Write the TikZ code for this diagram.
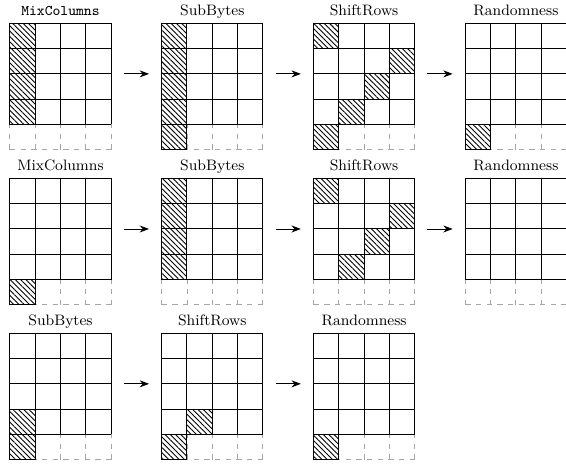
\documentclass[tikz,border=0pt]{standalone}
\usepackage{tikz}
\usetikzlibrary{arrows.meta, patterns.meta}

\begin{document}
\begin{tikzpicture}[>=Stealth, x=0.5cm, y=0.5cm,
    bytegrid/.style={step=1, line width=0.55pt},
    ghostrow/.style={step=1, gray!70, dashed, line width=0.5pt},
    taint/.style={draw, line width=0.55pt, pattern={Lines[angle=-45, distance=2.1pt, line width=0.5pt]}},
    state/.style={minimum size=2cm, inner sep=0pt, outer sep=0pt},
    title/.style={anchor=base, font=\fontsize{8.5}{10}\selectfont},
    flow/.style={->, line width=0.5pt, shorten <=0.25cm, shorten >=0.25cm}]
  \useasboundingbox (0,0) rectangle (22.37,-18.38);

  % first round
  \begin{scope}[shift={(0.39,-0.92)}]
    \draw[ghostrow] (0,-4) grid (4,-5);
    \draw[bytegrid] (0,0) grid (4,-4);
    \draw[taint] (0,0) rectangle (1,-4);
    \node[state] (mix1) at (2,-2) {};
    \node[title, font=\fontsize{8.3}{10}\ttfamily] (mix1t) at (2,0.3) {MixColumns};
  \end{scope}
  \begin{scope}[shift={(6.39,-0.92)}]
    \draw[ghostrow] (0,-4) grid (4,-5);
    \draw[bytegrid] (0,0) grid (4,-4);
    \draw[taint] (0,0) rectangle (1,-5);
    \node[state] (sub1) at (2,-2) {};
    \node[title] (sub1t) at (2,0.3) {SubBytes};
  \end{scope}
  \begin{scope}[shift={(12.39,-0.92)}]
    \draw[ghostrow] (0,-4) grid (4,-5);
    \draw[bytegrid] (0,0) grid (4,-4);
    \draw[taint] (0,0) rectangle +(1,-1);
    \draw[taint] (3,-1) rectangle +(1,-1);
    \draw[taint] (2,-2) rectangle +(1,-1);
    \draw[taint] (1,-3) rectangle +(1,-1);
    \draw[taint] (0,-4) rectangle +(1,-1);
    \node[state] (shift1) at (2,-2) {};
    \node[title] (shift1t) at (2,0.3) {ShiftRows};
  \end{scope}
  \begin{scope}[shift={(18.39,-0.92)}]
    \draw[ghostrow] (0,-4) grid (4,-5);
    \draw[bytegrid] (0,0) grid (4,-4);
    \draw[taint] (0,-4) rectangle +(1,-1);
    \node[state] (rand1) at (2,-2) {};
    \node[title] (rand1t) at (2,0.3) {Randomness};
  \end{scope}
  \draw[flow] (mix1.east) -- (sub1.west);
  \draw[flow] (sub1.east) -- (shift1.west);
  \draw[flow] (shift1.east) -- (rand1.west);

  % second round
  \begin{scope}[shift={(0.39,-7.05)}]
    \draw[ghostrow] (0,-4) grid (4,-5);
    \draw[bytegrid] (0,0) grid (4,-4);
    \draw[taint] (0,-4) rectangle +(1,-1);
    \node[state] (mix2) at (2,-2) {};
    \node[title] (mix2t) at (2,0.3) {MixColumns};
  \end{scope}
  \begin{scope}[shift={(6.39,-7.05)}]
    \draw[ghostrow] (0,-4) grid (4,-5);
    \draw[bytegrid] (0,0) grid (4,-4);
    \draw[taint] (0,0) rectangle (1,-4);
    \node[state] (sub2) at (2,-2) {};
    \node[title] (sub2t) at (2,0.3) {SubBytes};
  \end{scope}
  \begin{scope}[shift={(12.39,-7.05)}]
    \draw[ghostrow] (0,-4) grid (4,-5);
    \draw[bytegrid] (0,0) grid (4,-4);
    \draw[taint] (0,0) rectangle +(1,-1);
    \draw[taint] (3,-1) rectangle +(1,-1);
    \draw[taint] (2,-2) rectangle +(1,-1);
    \draw[taint] (1,-3) rectangle +(1,-1);
    \node[state] (shift2) at (2,-2) {};
    \node[title] (shift2t) at (2,0.3) {ShiftRows};
  \end{scope}
  \begin{scope}[shift={(18.39,-7.05)}]
    \draw[ghostrow] (0,-4) grid (4,-5);
    \draw[bytegrid] (0,0) grid (4,-4);
    \node[state] (rand2) at (2,-2) {};
    \node[title] (rand2t) at (2,0.3) {Randomness};
  \end{scope}
  \draw[flow] (mix2.east) -- (sub2.west);
  \draw[flow] (sub2.east) -- (shift2.west);
  \draw[flow] (shift2.east) -- (rand2.west);

  % last round
  \begin{scope}[shift={(0.39,-13.17)}]
    \draw[ghostrow] (0,-4) grid (4,-5);
    \draw[bytegrid] (0,0) grid (4,-4);
    \draw[taint] (0,-3) rectangle (1,-5);
    \node[state] (sub3) at (2,-2) {};
    \node[title] (sub3t) at (2,0.3) {SubBytes};
  \end{scope}
  \begin{scope}[shift={(6.39,-13.17)}]
    \draw[ghostrow] (0,-4) grid (4,-5);
    \draw[bytegrid] (0,0) grid (4,-4);
    \draw[taint] (1,-3) rectangle +(1,-1);
    \draw[taint] (0,-4) rectangle +(1,-1);
    \node[state] (shift3) at (2,-2) {};
    \node[title] (shift3t) at (2,0.3) {ShiftRows};
  \end{scope}
  \begin{scope}[shift={(12.39,-13.17)}]
    \draw[ghostrow] (0,-4) grid (4,-5);
    \draw[bytegrid] (0,0) grid (4,-4);
    \draw[taint] (0,-4) rectangle +(1,-1);
    \node[state] (rand3) at (2,-2) {};
    \node[title] (rand3t) at (2,0.3) {Randomness};
  \end{scope}
  \draw[flow] (sub3.east) -- (shift3.west);
  \draw[flow] (shift3.east) -- (rand3.west);
\end{tikzpicture}
\end{document}
